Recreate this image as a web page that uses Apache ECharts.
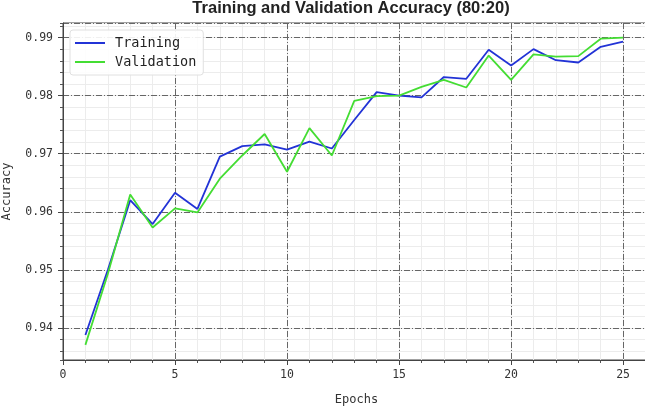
<!DOCTYPE html>
<html>
<head>
<meta charset="utf-8">
<script src="https://cdn.jsdelivr.net/npm/echarts@6/dist/echarts.min.js"></script>
<style>html,body{margin:0;padding:0;background:#fff}#c{width:645px;height:406px}</style>
</head>
<body>
<div id="c"></div>
<script>
const epochs = [1,2,3,4,5,6,7,8,9,10,11,12,13,14,15,16,17,18,19,20,21,22,23,24,25];
const training = [0.9388,0.9500,0.9620,0.9579,0.9633,0.9605,0.9695,0.9713,0.9716,0.9707,0.9721,0.9709,0.9758,0.9806,0.9800,0.9797,0.9832,0.9829,0.9879,0.9852,0.9880,0.9861,0.9857,0.9884,0.9893];
const validation = [0.9371,0.9493,0.9630,0.9573,0.9606,0.9599,0.9657,0.9697,0.9734,0.9669,0.9744,0.9697,0.9791,0.9799,0.9800,0.9815,0.9827,0.9814,0.9869,0.9827,0.9871,0.9867,0.9868,0.9898,0.9900];
const xTicks = [0,5,10,15,20,25];
const yTicks = [0.94,0.95,0.96,0.97,0.98,0.99];

const mono = 'DejaVu Sans Mono';
const chart = echarts.init(document.getElementById('c'));
const pair = (xs, ys) => xs.map((x, i) => [x, ys[i]]);
chart.setOption({
  animation: false,
  backgroundColor: '#fff',
  title: {
    text: 'Training and Validation Accuracy (80:20)',
    left: 346, textAlign: 'center', top: -5,
    textStyle: { fontFamily: 'Liberation Sans', fontWeight: 'bold', fontSize: 16.5, color: '#222' }
  },
  legend: {
    orient: 'vertical', left: 70, top: 30,
    padding: [6, 7, 6, 5],
    itemWidth: 30, itemHeight: 2, itemGap: 5,
    icon: 'rect',
    backgroundColor: 'rgba(255,255,255,0.9)',
    borderColor: '#e0e0e0', borderWidth: 1, borderRadius: 3,
    textStyle: { fontFamily: mono, fontSize: 13.5, color: '#222', padding: [0, 0, 0, 5] },
    data: ['Training', 'Validation']
  },
  grid: { left: 63, top: 23, right: -5, bottom: 46, outerBoundsMode: 'none', containLabel: false,
    show: true, borderColor: '#444', borderWidth: 1, backgroundColor: 'transparent' },
  xAxis: [{
    type: 'value', min: 0, max: 26.2, interval: 5,
    name: 'Epochs', nameLocation: 'middle', nameGap: 34,
    nameTextStyle: { fontFamily: mono, fontSize: 12, color: '#333' },
    axisLine: { show: true, lineStyle: { color: '#444' } },
    axisTick: { show: true, length: 5, inside: false, lineStyle: { color: '#444' } },
    axisLabel: { fontFamily: mono, fontSize: 11.5, color: '#333', margin: 9,
      formatter: v => xTicks.includes(v) ? String(v) : '', showMaxLabel: false },
    splitLine: { show: true, lineStyle: { color: '#666', width: 1, type: [6, 2, 1, 2] } },
    z: 3
  }, {
    type: 'value', min: 0, max: 26.2, interval: 1, position: 'bottom',
    axisLine: { show: false },
    axisTick: { show: true, length: 3, lineStyle: { color: '#555' } },
    axisLabel: { show: false },
    splitLine: { show: true, lineStyle: { color: '#ececec', width: 1 } },
    z: 1
  }],
  yAxis: [{
    type: 'value', min: 0.9345, max: 0.9925, splitNumber: 6,
    name: 'Accuracy', nameLocation: 'middle', nameGap: 50, nameRotate: 90,
    nameTextStyle: { fontFamily: mono, fontSize: 12, color: '#333' },
    axisLine: { show: true, lineStyle: { color: '#444' } },
    axisTick: { show: true, length: 5, lineStyle: { color: '#444' } },
    axisLabel: { fontFamily: mono, fontSize: 11.5, color: '#333', margin: 10,
      showMinLabel: false, showMaxLabel: false,
      formatter: v => { const r = Math.round(v * 100) / 100; return yTicks.some(t => Math.abs(t - v) < 1e-6) ? r.toFixed(2) : ''; } },
    splitLine: { show: true, lineStyle: { color: '#666', width: 1, type: [6, 2, 1, 2] } },
    z: 3
  }, {
    type: 'value', min: 0.9345, max: 0.9925, splitNumber: 29, position: 'left',
    axisLine: { show: false },
    axisTick: { show: true, length: 3, lineStyle: { color: '#555' } },
    axisLabel: { show: false },
    splitLine: { show: true, lineStyle: { color: '#ececec', width: 1 } },
    z: 1
  }],
  series: [{
    name: 'Training', type: 'line', xAxisIndex: 0, yAxisIndex: 0,
    data: pair(epochs, training), showSymbol: false, symbol: 'none',
    lineStyle: { color: '#2233d6', width: 1.8 }, itemStyle: { color: '#2233d6' }, z: 5
  }, {
    name: 'Validation', type: 'line', xAxisIndex: 0, yAxisIndex: 0,
    data: pair(epochs, validation), showSymbol: false, symbol: 'none',
    lineStyle: { color: '#44dd33', width: 1.8 }, itemStyle: { color: '#44dd33' }, z: 5
  }]
});
</script>
</body>
</html>
